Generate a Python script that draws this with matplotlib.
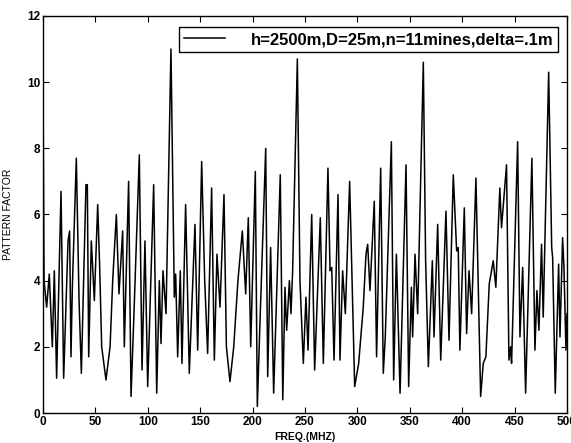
import matplotlib
matplotlib.use("Agg")
import matplotlib.pyplot as plt

# frequency (MHz) and pattern factor (peaks and dips)
freq = [0, 1, 3.5, 6.0, 8.9, 10.8, 13.0, 17.2, 19.7, 23.9, 25.4, 26.7, 28.0,
        31.8, 34.4, 36.6, 41.0, 42.3, 43.6, 46.1, 49.0, 52.2, 54.0, 56.0, 60.1,
        64.0, 66.5, 70.0, 72.5, 76.0, 77.6, 81.7, 84.0, 86.8, 91.9, 94.5, 97.3,
        99.9, 105.6, 108.5, 111.0, 112.6, 114.5, 117.4, 122.1, 125.3, 126.6,
        128.5, 131.0, 132.6, 136.1, 139.6, 145.0, 147.6, 151.4, 154.3, 157.1,
        160.9, 163.5, 166.0, 168.9, 172.7, 175.0, 178.4, 182.0, 186.0, 190.2,
        193.4, 195.9, 198.2, 202.6, 204.5, 206.7, 212.5, 214.4, 217.2, 220.1,
        226.4, 228.8, 230.9, 232.5, 235.1, 236.6, 238.2, 242.7, 245.2, 248.4,
        250.9, 252.9, 256.4, 259.2, 264.6, 267.5, 271.9, 273.9, 275.5, 277.7,
        281.5, 283.4, 285.9, 288.5, 292.6, 297.4, 301.2, 305.6, 308.2, 309.8,
        312.0, 316.1, 318.3, 322.2, 324.7, 326.6, 332.4, 334.6, 337.2, 340.7,
        346.4, 348.9, 351.5, 352.7, 355.0, 357.5, 362.9, 365.1, 367.7, 371.5,
        373.1, 376.6, 379.5, 384.5, 387.4, 391.5, 394.7, 396.2, 397.8, 402.0,
        404.2, 406.5, 409.0, 413.1, 417.6, 420.1, 422.6, 425.8, 429.6, 432.1,
        435.9, 437.5, 442.3, 444.6, 446.2, 447.1, 452.9, 455.1, 457.7, 460.5,
        466.5, 469.4, 471.3, 473.2, 475.7, 477.3, 482.5, 485.4, 486.3, 488.8,
        492.0, 493.3, 495.8, 497.1, 499.0, 500]
pattern = [10.0, 4.0, 3.2, 4.2, 2.0, 4.3, 1.05, 6.7, 1.05, 5.2, 5.5, 1.7, 3.8,
           7.7, 3.4, 1.2, 6.9, 6.9, 1.7, 5.2, 3.4, 6.3, 4.5, 2.0, 1.0,
           2.0, 4.0, 6.0, 3.6, 5.5, 2.0, 7.0, 0.5, 3.0, 7.8, 1.3, 5.2,
           0.8, 6.9, 0.6, 4.0, 2.1, 4.3, 3.0, 11.0, 3.5, 4.2,
           1.7, 4.3, 1.5, 6.3, 1.2, 5.7, 1.9, 7.6, 4.0, 1.8,
           6.8, 1.6, 4.8, 3.2, 6.6, 2.0, 0.95, 2.0, 4.0, 5.5,
           3.6, 5.9, 2.0, 7.3, 0.2, 2.4, 8.0, 1.1, 5.0, 0.6,
           7.2, 0.4, 3.8, 2.5, 4.0, 3.0, 4.3, 10.7, 4.0, 1.5,
           3.5, 1.9, 6.0, 1.3, 5.9, 1.5, 7.4, 4.3, 4.4, 1.6,
           6.6, 1.6, 4.3, 3.0, 7.0, 0.8, 1.5, 3.2, 4.8, 5.1,
           3.7, 6.4, 1.7, 7.4, 1.2, 2.3, 8.2, 1.0, 4.8, 0.6,
           7.5, 0.8, 3.8, 2.3, 4.8, 3.0, 10.6, 4.6, 1.4, 4.6,
           2.3, 5.7, 1.6, 6.1, 2.2, 7.2, 4.9, 5.0, 1.9, 6.2,
           2.4, 4.3, 3.0, 7.1, 0.5, 1.5, 1.7, 3.9, 4.6, 3.8,
           6.8, 5.6, 7.5, 1.6, 2.0, 1.5, 8.2, 2.3, 4.4, 0.6,
           7.7, 1.9, 3.7, 2.5, 5.1, 2.9, 10.3, 5.0, 4.7, 0.6,
           4.5, 2.3, 5.3, 4.4, 1.9, 3.0]

xticks = [0, 50, 100, 150, 200, 250, 300, 350, 400, 450, 500]
yticks = [0, 2, 4, 6, 8, 10, 12]
label = 'h=2500m,D=25m,n=11mines,delta=.1m'

plt.rcParams['font.family'] = ['Liberation Sans', 'DejaVu Sans']

fig = plt.figure(figsize=(5.71, 4.43), dpi=100)
ax = fig.add_axes([0.0753, 0.0677, 0.9177, 0.8963])

ax.plot(freq, pattern, color='black', lw=1.1, label=label)

ax.set_xlim(0, 500)
ax.set_ylim(0, 12)
ax.set_xticks(xticks)
ax.set_yticks(yticks)
ax.tick_params(direction='in', top=True, right=True, length=4, width=0.8,
               labelsize=8.5, pad=2)
for t in ax.get_xticklabels() + ax.get_yticklabels():
    t.set_fontweight('bold')
for s in ax.spines.values():
    s.set_linewidth(1.0)

ax.set_xlabel('FREQ.(MHZ)', fontsize=7.5, fontweight='bold', labelpad=3)
ax.set_ylabel('PATTERN FACTOR', fontsize=7.5, labelpad=10)

leg = ax.legend(loc='upper right', prop={'weight': 'bold', 'size': 12},
                handlelength=2.5, handletextpad=1.5, borderpad=0.3,
                borderaxespad=0, fancybox=False, framealpha=1,
                bbox_to_anchor=(0.983, 0.972))
leg.get_frame().set_edgecolor('black')
leg.get_frame().set_linewidth(1.0)

fig.savefig('out.png', dpi=100)
